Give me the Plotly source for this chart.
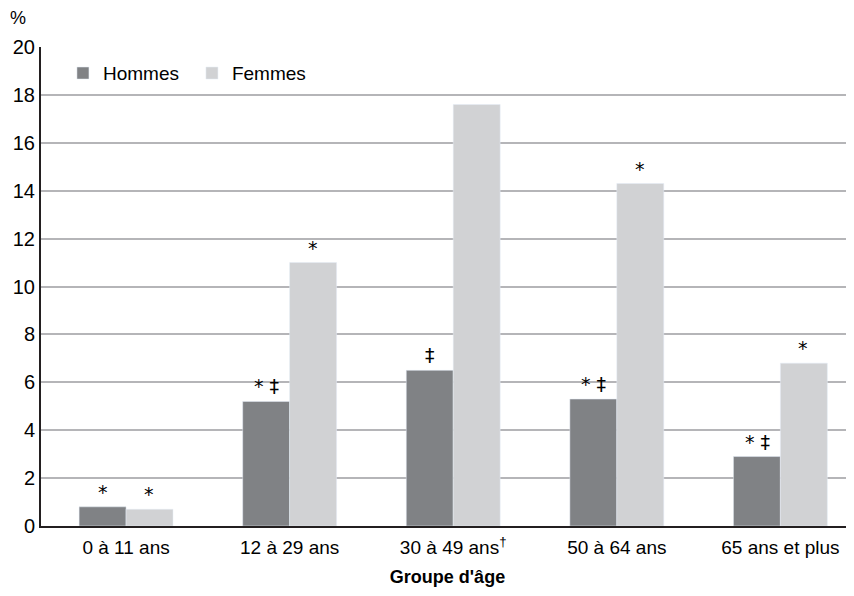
import plotly.graph_objects as go

categories = ["0 à 11 ans", "12 à 29 ans", "30 à 49 ans<sup>†</sup>", "50 à 64 ans", "65 ans et plus"]
hommes = [0.8, 5.2, 6.5, 5.3, 2.9]
femmes = [0.7, 11.0, 17.6, 14.3, 6.8]
hommes_marks = ["*", "* ‡", "‡", "* ‡", "* ‡"]
femmes_marks = ["*", "*", "", "*", "*"]
y_ticks = [0, 2, 4, 6, 8, 10, 12, 14, 16, 18, 20]

FONT = "Liberation Sans, Arial, sans-serif"
MARK_FONT = dict(size=19, color="#000000", family="DejaVu Sans, Liberation Sans, sans-serif")

fig = go.Figure()
fig.add_trace(go.Bar(name="Hommes", x=categories, y=hommes, marker_color="#808285"))
fig.add_trace(go.Bar(name="Femmes", x=categories, y=femmes, marker_color="#d1d2d4"))

annotations = []
for cat, v, m in zip(categories, hommes, hommes_marks):
    if m:
        annotations.append(dict(x=cat, y=v, text=m, xshift=-23, yshift=2, yanchor="bottom",
                                showarrow=False, font=MARK_FONT))
for cat, v, m in zip(categories, femmes, femmes_marks):
    if m:
        annotations.append(dict(x=cat, y=v, text=m, xshift=23, yshift=2, yanchor="bottom",
                                showarrow=False, font=MARK_FONT))
annotations.append(dict(text="%", xref="paper", yref="paper", x=-0.040, y=1.06,
                        xanchor="left", yanchor="middle", showarrow=False,
                        font=dict(size=18)))

fig.update_layout(
    width=846, height=588,
    margin=dict(l=33, r=0, t=39, b=70),
    paper_bgcolor="white", plot_bgcolor="white",
    barmode="group", bargap=0.426, bargroupgap=0,
    font=dict(family=FONT, size=19, color="#000000"),
    legend=dict(orientation="h", x=0.027, y=0.985, xanchor="left", yanchor="top",
                font=dict(size=19), bgcolor="rgba(0,0,0,0)", entrywidth=84),
    xaxis=dict(
        range=[-0.52, 4.45], showline=True, linecolor="#231f20", linewidth=2,
        ticks="", tickfont=dict(size=19), ticklabelstandoff=3,
        title=dict(text="<b>Groupe d'âge</b>", font=dict(size=18), standoff=14),
    ),
    yaxis=dict(
        range=[0, 20], tickvals=y_ticks, showline=True, linecolor="#231f20", linewidth=2,
        showgrid=True, gridcolor="#b5b5b8", gridwidth=1.5, ticks="",
        tickfont=dict(size=20), zeroline=False,
    ),
    annotations=annotations,
    showlegend=True,
)

fig.write_html("out.html")
